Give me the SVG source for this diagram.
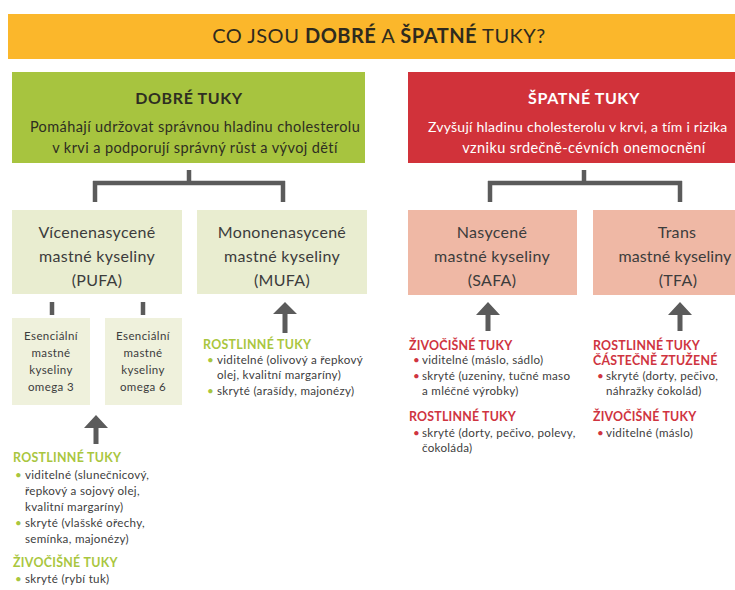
<svg xmlns="http://www.w3.org/2000/svg" width="735" height="590" viewBox="0 0 735 590">
<defs>
<style>
text{font-family:Lato,"Open Sans","Liberation Sans",sans-serif;}
.title{font-size:20px;letter-spacing:0.5px;fill:#2e2a1e;}
.hdr{font-size:16px;font-weight:700;letter-spacing:0.6px;}
.hsub{font-size:14.5px;letter-spacing:0.4px;}
.box{font-size:16px;letter-spacing:0.3px;fill:#3c3c3c;text-anchor:middle;}
.sbox{font-size:11.5px;letter-spacing:0.4px;fill:#3c3c3c;text-anchor:middle;}
.gh{font-size:12.4px;font-weight:700;letter-spacing:0.3px;fill:#a9c63e;}
.rh{font-size:12.4px;font-weight:700;letter-spacing:0.2px;fill:#cf3440;}
.ll{font-size:11.6px;letter-spacing:0.3px;fill:#404040;}
.gb{fill:#a9c63e;}
.rb{fill:#cf3440;}
.conn{stroke:#5b5b5b;stroke-width:4.5;fill:none;}
.arrow{fill:#5b5b5b;}
</style>
</defs>
<rect width="735" height="590" fill="#ffffff"/>

<g id="banner">
<rect x="8" y="14" width="727" height="45" fill="#fbb72b"/>
<text class="title" x="379" y="43" text-anchor="middle">CO JSOU <tspan font-weight="700">DOBRÉ</tspan> A <tspan font-weight="700">ŠPATNÉ</tspan> TUKY?</text>
</g>

<g id="good-fats">
<rect x="12" y="72" width="353" height="91" fill="#a7c43f"/>
<text class="hdr" x="189" y="104" text-anchor="middle" fill="#2e2e22">DOBRÉ TUKY</text>
<text class="hsub" x="195" y="132" text-anchor="middle" fill="#2e2e22">Pomáhají udržovat správnou hladinu cholesterolu</text>
<text class="hsub" x="195" y="153" text-anchor="middle" fill="#2e2e22">v krvi a podporují správný růst a vývoj dětí</text>
</g>

<g id="bad-fats">
<rect x="408" y="72" width="327" height="91" fill="#d1323a"/>
<text class="hdr" x="584" y="104" text-anchor="middle" fill="#ffffff">ŠPATNÉ TUKY</text>
<text class="hsub" x="428" y="132" fill="#ffffff" style="font-size:14px;letter-spacing:0.25px">Zvyšují hladinu cholesterolu v krvi, a tím i rizika</text>
<text class="hsub" x="584" y="153" text-anchor="middle" fill="#ffffff">vzniku srdečně-cévních onemocnění</text>
</g>

<g id="pufa">
<rect x="12" y="210" width="170" height="84" fill="#e9edd0"/>
<text class="box" x="97" y="238">Vícenenasycené</text>
<text class="box" x="97" y="262">mastné kyseliny</text>
<text class="box" x="97" y="286">(PUFA)</text>
</g>

<g id="mufa">
<rect x="197" y="210" width="170" height="84" fill="#e9edd0"/>
<text class="box" x="282" y="238">Mononenasycené</text>
<text class="box" x="282" y="262">mastné kyseliny</text>
<text class="box" x="282" y="286">(MUFA)</text>
</g>

<g id="safa">
<rect x="408" y="210" width="169" height="85" fill="#efb8a5"/>
<text class="box" x="492" y="238">Nasycené</text>
<text class="box" x="492" y="262">mastné kyseliny</text>
<text class="box" x="492" y="286">(SAFA)</text>
</g>

<g id="tfa">
<rect x="593" y="210" width="142" height="85" fill="#efb8a5"/>
<text class="box" x="677" y="238">Trans</text>
<text class="box" x="675" y="262" style="letter-spacing:0.1px">mastné kyseliny</text>
<text class="box" x="678" y="286">(TFA)</text>
</g>

<g id="omega3">
<rect x="12" y="318" width="78" height="87" fill="#eff1dc"/>
<text class="sbox" x="51" y="340">Esenciální</text>
<text class="sbox" x="51" y="357">mastné</text>
<text class="sbox" x="51" y="374">kyseliny</text>
<text class="sbox" x="51" y="391">omega 3</text>
</g>

<g id="omega6">
<rect x="105" y="318" width="77" height="87" fill="#eff1dc"/>
<text class="sbox" x="143" y="340">Esenciální</text>
<text class="sbox" x="143" y="357">mastné</text>
<text class="sbox" x="143" y="374">kyseliny</text>
<text class="sbox" x="143" y="391">omega 6</text>
</g>

<g id="pufa-sources">
<text class="gh" x="13" y="462">ROSTLINNÉ TUKY</text>
<text class="ll gb" x="15" y="479">•</text>
<text class="ll" x="25" y="479">viditelné (slunečnicový,</text>
<text class="ll" x="25" y="495">řepkový a sojový olej,</text>
<text class="ll" x="25" y="511">kvalitní margaríny)</text>
<text class="ll gb" x="15" y="527">•</text>
<text class="ll" x="25" y="527">skryté (vlašské ořechy,</text>
<text class="ll" x="25" y="543">semínka, majonézy)</text>
<text class="gh" x="13" y="567">ŽIVOČIŠNÉ TUKY</text>
<text class="ll gb" x="15" y="583">•</text>
<text class="ll" x="25" y="583">skryté (rybí tuk)</text>
</g>

<g id="mufa-sources">
<text class="gh" x="203" y="349">ROSTLINNÉ TUKY</text>
<text class="ll gb" x="207" y="364">•</text>
<text class="ll" x="217" y="364">viditelné (olivový a řepkový</text>
<text class="ll" x="217" y="379">olej, kvalitní margaríny)</text>
<text class="ll gb" x="207" y="395">•</text>
<text class="ll" x="217" y="395">skryté (arašídy, majonézy)</text>
</g>

<g id="safa-sources">
<text class="rh" x="409" y="350">ŽIVOČIŠNÉ TUKY</text>
<text class="ll rb" x="413" y="364">•</text>
<text class="ll" x="422" y="364">viditelné (máslo, sádlo)</text>
<text class="ll rb" x="413" y="380">•</text>
<text class="ll" x="422" y="380">skryté (uzeniny, tučné maso</text>
<text class="ll" x="422" y="395">a mléčné výrobky)</text>
<text class="rh" x="409" y="421">ROSTLINNÉ TUKY</text>
<text class="ll rb" x="413" y="437">•</text>
<text class="ll" x="422" y="437">skryté (dorty, pečivo, polevy,</text>
<text class="ll" x="422" y="452">čokoláda)</text>
</g>

<g id="tfa-sources">
<text class="rh" x="593" y="350">ROSTLINNÉ TUKY</text>
<text class="rh" x="593" y="365">ČÁSTEČNĚ ZTUŽENÉ</text>
<text class="ll rb" x="597" y="380">•</text>
<text class="ll" x="606" y="380">skryté (dorty, pečivo,</text>
<text class="ll" x="606" y="395">náhražky čokolád)</text>
<text class="rh" x="593" y="421">ŽIVOČIŠNÉ TUKY</text>
<text class="ll rb" x="597" y="437">•</text>
<text class="ll" x="606" y="437">viditelné (máslo)</text>
</g>

<g id="connectors">
<path class="conn" d="M189,170 V183 M93,183 H285 M95,181 V202 M283,181 V202"/>
<path class="conn" d="M584,170 V183 M488,183 H682 M490,181 V202 M680,181 V202"/>
<path class="conn" d="M52,302 V315 M143,302 V315"/>
<path class="arrow" d="M285,302 L297,314 L287.5,314 L287.5,333 L282.5,333 L282.5,314 L273,314 Z"/>
<path class="arrow" d="M96,415 L108,428 L98.5,428 L98.5,444 L93.5,444 L93.5,428 L84,428 Z"/>
<path class="arrow" d="M488,302 L500,315 L490.5,315 L490.5,331 L485.5,331 L485.5,315 L476,315 Z"/>
<path class="arrow" d="M680,302 L692,315 L682.5,315 L682.5,331 L677.5,331 L677.5,315 L668,315 Z"/>
</g>
</svg>
